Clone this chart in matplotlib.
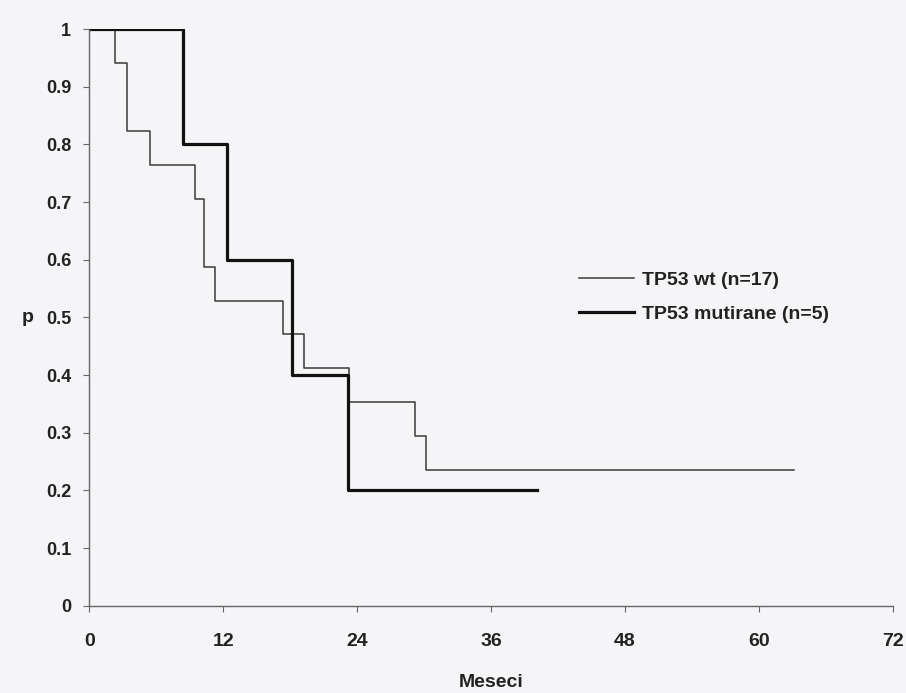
import matplotlib
matplotlib.use('Agg')
from matplotlib import pyplot as plt

# Kaplan-Meier krivulje (vrijednosti ocitane sa slike)
wt_time = [0, 2.3, 3.35, 5.44, 9.47, 10.3, 11.26, 17.4, 19.2, 23.3, 29.2, 30.2, 63.2]
wt_surv = [1.0, 0.941, 0.824, 0.765, 0.706, 0.588, 0.529, 0.471, 0.412, 0.353, 0.294, 0.235, 0.235]
mut_time = [0, 8.4, 12.3, 18.2, 23.2, 40.1]
mut_surv = [1.0, 0.8, 0.6, 0.4, 0.2, 0.2]

labels = ['TP53 wt (n=17)', 'TP53 mutirane (n=5)']
x_ticks = [0, 12, 24, 36, 48, 60, 72]
y_ticks = [0, 0.1, 0.2, 0.3, 0.4, 0.5, 0.6, 0.7, 0.8, 0.9, 1]
y_tick_labels = ['0', '0.1', '0.2', '0.3', '0.4', '0.5', '0.6', '0.7', '0.8', '0.9', '1']

plt.rcParams['font.family'] = ['Liberation Sans', 'DejaVu Sans']
bg = '#f5f5f8'
txt = '#222222'

fig = plt.figure(figsize=(9.06, 6.93), dpi=100, facecolor=bg)
ax = fig.add_axes([0.0986, 0.126, 0.8867, 0.832], facecolor=bg)

ax.plot(wt_time, wt_surv, drawstyle='steps-post', color='#3a3a3a', lw=1.1, label=labels[0])
ax.plot(mut_time, mut_surv, drawstyle='steps-post', color='#111111', lw=2.3, label=labels[1])

ax.set_xlim(0, 72); ax.set_ylim(0, 1)
ax.set_xticks(x_ticks)
ax.set_xticklabels([str(t) for t in x_ticks], fontsize=14, fontweight='bold', color=txt)
ax.set_yticks(y_ticks)
ax.set_yticklabels(y_tick_labels, fontsize=13, fontweight='bold', color=txt)

for s in ['top', 'right']:
    ax.spines[s].set_visible(False)
for s in ['left', 'bottom']:
    ax.spines[s].set_color('#666666')
    ax.spines[s].set_linewidth(1.0)
ax.tick_params(axis='both', direction='out', length=4, width=0.8, color='#666666')
ax.tick_params(axis='x', pad=16)
ax.tick_params(axis='y', pad=9)

ax.set_xlabel('Meseci', fontsize=14, fontweight='bold', color=txt, labelpad=17)
fig.text(0.024, 1 - 318 / 693, 'p', fontsize=14, fontweight='bold', color=txt, va='center')

ax.legend(loc='center left', bbox_to_anchor=(0.588, 0.535), frameon=False,
          handlelength=2.8, handletextpad=0.45, labelspacing=0.85,
          prop={'size': 14, 'weight': 'bold'}, labelcolor=txt)

fig.savefig('out.png', dpi=100, facecolor=bg)
